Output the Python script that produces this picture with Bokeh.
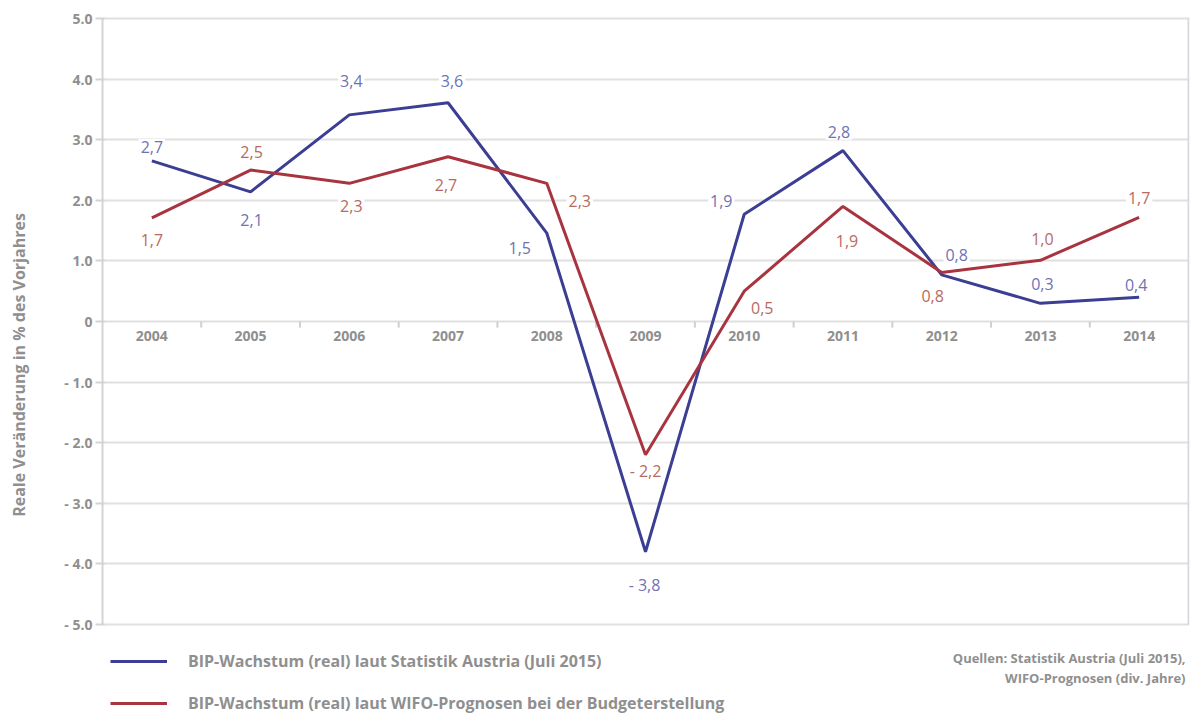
from bokeh.plotting import figure
from bokeh.models import Range1d, FixedTicker, Label, Legend, LegendItem
from bokeh.core.properties import value
from bokeh.embed import file_html
from bokeh.resources import INLINE

# ---- data ----
years = ["2004", "2005", "2006", "2007", "2008", "2009", "2010", "2011", "2012", "2013", "2014"]
bip_statistik = [2.65, 2.14, 3.41, 3.61, 1.46, -3.80, 1.77, 2.82, 0.77, 0.30, 0.40]
bip_wifo = [1.71, 2.50, 2.28, 2.72, 2.28, -2.20, 0.50, 1.90, 0.81, 1.01, 1.72]
labels_statistik = ["2,7", "2,1", "3,4", "3,6", "1,5", "- 3,8", "1,9", "2,8", "0,8", "0,3", "0,4"]
labels_wifo = ["1,7", "2,5", "2,3", "2,7", "2,3", "- 2,2", "0,5", "1,9", "0,8", "1,0", "1,7"]
y_ticks = [-5, -4, -3, -2, -1, 0, 1, 2, 3, 4, 5]
y_tick_labels = ["- 5.0", "- 4.0", "- 3.0", "- 2.0", "- 1.0", "0", "1.0", "2.0", "3.0", "4.0", "5.0"]
legend_statistik = "BIP-Wachstum (real) laut Statistik Austria (Juli 2015)"
legend_wifo = "BIP-Wachstum (real) laut WIFO-Prognosen bei der Budgeterstellung"
source_lines = ["Quellen: Statistik Austria (Juli 2015),", "WIFO-Prognosen (div. Jahre)"]
y_title = "Reale Veränderung in % des Vorjahres"

# label placement (pixel offsets, styling only)
off_statistik = [(0, 14), (1, -28), (2, 34), (4, 22), (-27, -15), (-1, -33),
                 (-23, 13), (-4, 19), (15, 20), (2, 19), (-3, 12)]
off_wifo = [(0, -22), (1, 18), (2, -23), (-2, -28), (33, -18), (0, -16),
            (18, -17), (4, -35), (-9, -24), (2, 21), (0, 19)]

FONT = "Open Sans"
GREY = "#8f8f8f"
BLUE = "#3b3e93"
RED = "#a8343f"
BLUE_TXT = "#6f72b4"
RED_TXT = "#b86a60"
Y_MIN, Y_MAX = y_ticks[0], y_ticks[-1]

xs = list(range(len(years)))

p = figure(width=1193, height=714, output_backend="svg", toolbar_location=None,
           x_range=Range1d(-0.5, 10.51), y_range=Range1d(-6.485, 5.05),
           min_border_left=102, min_border_right=4, min_border_top=15, min_border_bottom=0,
           background_fill_color="white", border_fill_color="white")
p.outline_line_color = None
p.xaxis.visible = False
p.xgrid.visible = False

p.ygrid.ticker = FixedTicker(ticks=y_ticks)
p.ygrid.grid_line_color = "#e0e0e0"
p.ygrid.grid_line_width = 2

ax = p.yaxis[0]
ax.ticker = FixedTicker(ticks=y_ticks)
ax.bounds = (Y_MIN, Y_MAX)
ax.major_label_overrides = {t: s for t, s in zip(y_ticks, y_tick_labels)}
ax.axis_line_color = "#d4d4d8"
ax.axis_line_width = 2
ax.major_tick_line_color = "#d4d4d8"
ax.major_tick_line_width = 2
ax.major_tick_out = 7
ax.major_tick_in = 2
ax.minor_tick_line_color = None
ax.major_label_text_font = FONT
ax.major_label_text_font_style = "bold"
ax.major_label_text_font_size = "14px"
ax.major_label_text_color = GREY
ax.major_label_standoff = 3
ax.axis_label = y_title
ax.axis_label_text_font = FONT
ax.axis_label_text_font_style = "bold"
ax.axis_label_text_font_size = "16px"
ax.axis_label_text_color = GREY
ax.axis_label_standoff = 31

# right border of the plot area
p.segment(x0=[10.5], y0=[Y_MIN], x1=[10.5], y1=[Y_MAX], line_color="#d8d8e0", line_width=2)

# category boundary ticks on the zero line
bounds = [i + 0.5 for i in xs[:-1]]
p.segment(x0=bounds, y0=[0] * len(bounds), x1=bounds, y1=[-0.1] * len(bounds),
          line_color="#cfcfcf", line_width=2)

# year labels along zero line
p.text(x=xs, y=[0] * len(xs), text=years, y_offset=14, text_align="center",
       text_baseline="middle", text_font=value(FONT), text_font_style="bold",
       text_font_size="14px", text_color=GREY)

r_blue = p.line(xs, bip_statistik, line_color=BLUE, line_width=3)
r_red = p.line(xs, bip_wifo, line_color=RED, line_width=3)

for xi, v, t, (dx, dy) in zip(xs, bip_statistik, labels_statistik, off_statistik):
    p.add_layout(Label(x=xi, y=v, text=t, x_offset=dx, y_offset=dy, text_align="center",
                       text_baseline="middle", text_color=BLUE_TXT, text_font=FONT,
                       text_font_size="16px", background_fill_color="white", padding=2))
for xi, v, t, (dx, dy) in zip(xs, bip_wifo, labels_wifo, off_wifo):
    p.add_layout(Label(x=xi, y=v, text=t, x_offset=dx, y_offset=dy, text_align="center",
                       text_baseline="middle", text_color=RED_TXT, text_font=FONT,
                       text_font_size="16px", background_fill_color="white", padding=2))

legend = Legend(items=[LegendItem(label=legend_statistik, renderers=[r_blue]),
                       LegendItem(label=legend_wifo, renderers=[r_red])],
                location=(8, 0), orientation="vertical",
                glyph_width=57, glyph_height=20, label_height=20, label_standoff=21,
                spacing=20, padding=0, margin=0,
                border_line_color=None, background_fill_alpha=0,
                label_text_font=FONT, label_text_font_style="bold",
                label_text_font_size="16px", label_text_color=GREY)
p.add_layout(legend)

for i, line in enumerate(source_lines):
    p.add_layout(Label(x=10.5, y=Y_MIN, text=line, x_offset=-3, y_offset=-33 - 20 * i,
                       text_align="right", text_baseline="middle", text_color=GREY,
                       text_font=FONT, text_font_style="bold", text_font_size="13px"))

open("out.html", "w").write(file_html(p, INLINE))
